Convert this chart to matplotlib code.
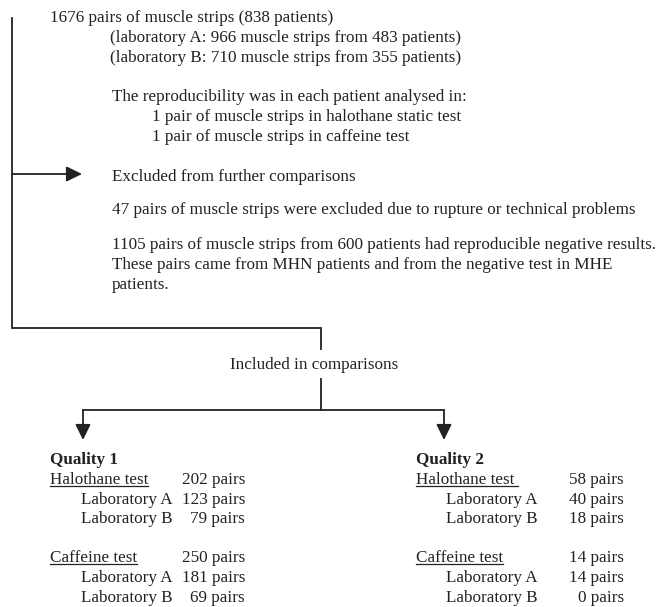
import numpy as np
import matplotlib.pyplot as plt

# dados do fluxograma
total_pares = 1676
total_pacientes = 838
lab_a = [966, 483]   # strips, pacientes
lab_b = [710, 355]
excluidos = 47
negativos = [1105, 600]  # pares, pacientes

testes = ['Halothane test', 'Caffeine test']
laboratorios = ['Laboratory A', 'Laboratory B']
# [total, lab A, lab B]
q1_halotano = [202, 123, 79]
q1_cafeina = [250, 181, 69]
q2_halotano = [58, 40, 18]
q2_cafeina = [14, 14, 0]

plt.rcParams['font.family'] = ['Liberation Serif', 'DejaVu Serif']
cor = '#222222'
fs = 12.3
lw = 1.3

fig = plt.figure(figsize=(6.58, 6.07), dpi=100)
ax = fig.add_axes([0, 0, 1, 1])
ax.set_xlim(0, 658)
ax.set_ylim(607, 0)
ax.axis('off')


def texto(x, y, s, ha='left', **kw):
    return ax.text(x, y, s, ha=ha, va='center', fontsize=fs, color=cor, **kw)


def seta(x0, y0, x1, y1):
    ax.annotate('', xy=(x1, y1), xytext=(x0, y0),
                arrowprops=dict(arrowstyle='-|>,head_length=0.45,head_width=0.22',
                                mutation_scale=21, lw=lw, color=cor,
                                shrinkA=0, shrinkB=0))


# bloco de cima
texto(50, 18, '{} pairs of muscle strips ({} patients)'.format(total_pares, total_pacientes))
texto(110, 38, '(laboratory A: {} muscle strips from {} patients)'.format(lab_a[0], lab_a[1]))
texto(110, 58, '(laboratory B: {} muscle strips from {} patients)'.format(lab_b[0], lab_b[1]))
texto(112, 97, 'The reproducibility was in each patient analysed in:')
texto(152, 117, '1 pair of muscle strips in halothane static test')
texto(152, 137, '1 pair of muscle strips in caffeine test')

# excluidos
texto(112, 177, 'Excluded from further comparisons')
texto(112, 210, '{} pairs of muscle strips were excluded due to rupture or technical problems'.format(excluidos))
texto(112, 245, '{} pairs of muscle strips from {} patients had reproducible negative results.'.format(negativos[0], negativos[1]))
texto(112, 265, 'These pairs came from MHN patients and from the negative test in MHE')
texto(112, 285, 'patients.')

# linhas
ax.plot([12, 12, 321, 321], [18, 328, 328, 349], color=cor, lw=lw, solid_joinstyle='miter')
seta(12, 174, 82, 174)
texto(314, 365, 'Included in comparisons', ha='center')
ax.plot([321, 321], [379, 410], color=cor, lw=lw)
ax.plot([83, 444], [410, 410], color=cor, lw=lw)
seta(83, 410, 83, 440)
seta(444, 410, 444, 440)

# tabelas de qualidade
fig.canvas.draw()
rend = fig.canvas.get_renderer()
inv = ax.transData.inverted()


def sublinhado(t, extra=0):
    bb = t.get_window_extent(rend)
    (x0, y0), (x1, y1) = inv.transform([[bb.x0, bb.y0], [bb.x1, bb.y1]])
    ax.plot([x0, x1 + extra], [y0 - 2.5, y0 - 2.5], color=cor, lw=0.9)


def bloco(x, x_lab, x_num, titulo, valores_h, valores_c, extra_h=0):
    texto(x, 460, titulo, fontweight='bold')
    ys = [[480, 500, 519], [558, 578, 598]]
    for teste, vals, y3, ex in zip(testes, [valores_h, valores_c], ys, [extra_h, 0]):
        t = texto(x, y3[0], teste)
        sublinhado(t, ex)
        texto(x_num, y3[0], '{} pairs'.format(vals[0]), ha='right')
        for lab, v, y in zip(laboratorios, vals[1:], y3[1:]):
            texto(x_lab, y, lab)
            texto(x_num, y, '{} pairs'.format(v), ha='right')


bloco(50, 81, 245, 'Quality 1', q1_halotano, q1_cafeina)
bloco(416, 446, 624, 'Quality 2', q2_halotano, q2_cafeina, extra_h=4)

fig.savefig('out.png', dpi=100)
